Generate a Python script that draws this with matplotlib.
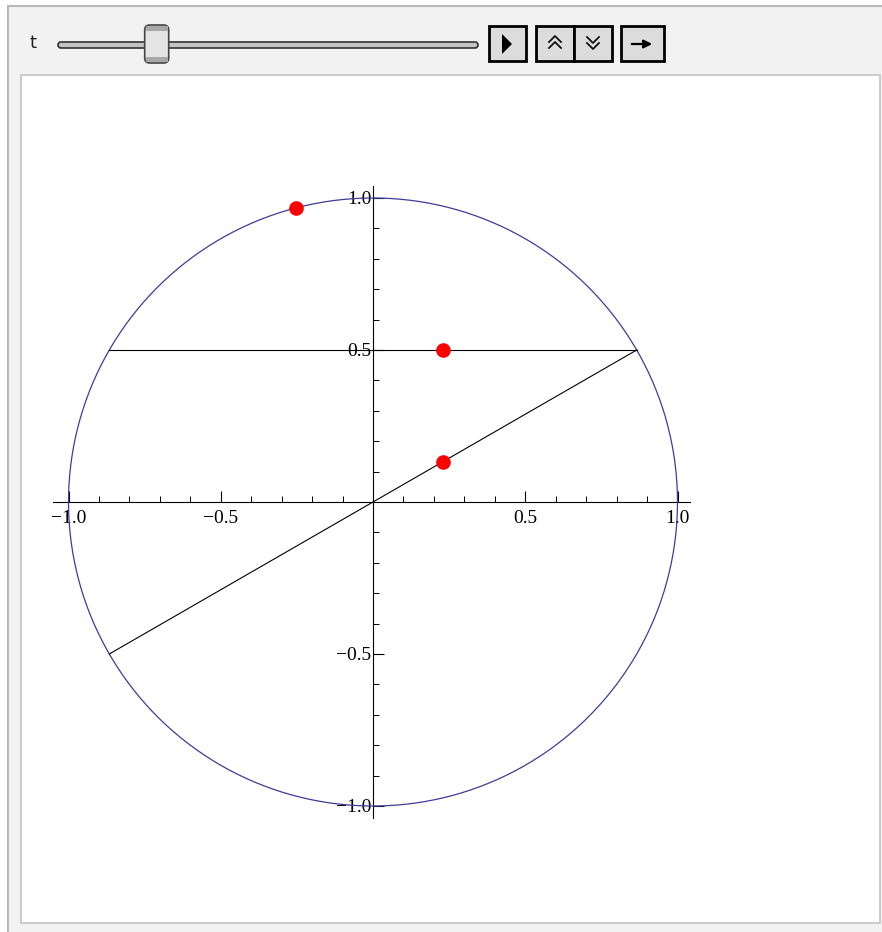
import numpy as np
import matplotlib.pyplot as plt
from matplotlib.patches import Rectangle, FancyBboxPatch, Polygon
from matplotlib.ticker import FixedLocator

# data
chord_x = [-0.866, 0.866]
chord_y = [0.5, 0.5]
radius_x = [-0.866, 0.866]
radius_y = [-0.5, 0.5]
dots_x = [-0.253, 0.23, 0.23]
dots_y = [0.968, 0.5, 0.133]
major_ticks = [-1.0, -0.5, 0.5, 1.0]
tick_labels = ['\u22121.0', '\u22120.5', '0.5', '1.0']
slider_value = 0.235

W, H = 882, 932
fig = plt.figure(figsize=(W / 100, H / 100), dpi=100)

# ui chrome drawn in pixel coords
ui = fig.add_axes([0, 0, 1, 1], zorder=0)
ui.set_xlim(0, W)
ui.set_ylim(H, 0)
ui.axis('off')
ui.add_patch(Rectangle((0, 0), W, H, facecolor='white', edgecolor='none'))
ui.add_patch(Rectangle((8, 6), W - 6, H, facecolor='#f2f2f2', edgecolor='#b8b8b8', lw=1.5))
ui.add_patch(Rectangle((21, 75), 859, 848, facecolor='white', edgecolor='#c4c4c4', lw=1.2))
ui.text(33, 43, 't', fontsize=13, family='DejaVu Sans', va='center', ha='center', color='#222222')

# slider
ui.add_patch(FancyBboxPatch((58, 42), 420, 6, boxstyle='round,pad=0,rounding_size=3',
                            facecolor='#c4c4c4', edgecolor='#333333', lw=1.2))
thumb_x = 58 + slider_value * 420
ui.add_patch(FancyBboxPatch((thumb_x - 12, 25), 24, 38, boxstyle='round,pad=0,rounding_size=5',
                            facecolor='#e4e4e4', edgecolor='#444444', lw=1.2))
ui.add_patch(Rectangle((thumb_x - 11, 26), 22, 5, facecolor='#a8a8a8', edgecolor='none'))
ui.add_patch(Rectangle((thumb_x - 11, 57), 22, 5, facecolor='#a8a8a8', edgecolor='none'))

# buttons
for bx, bw in [(489, 37), (536, 38), (574, 38), (621, 43)]:
    ui.add_patch(Rectangle((bx, 26), bw, 35, facecolor='#dcdcdc', edgecolor='black', lw=2))
ui.add_patch(Polygon([[502, 34], [502, 54], [512, 44]], closed=True, facecolor='black'))
for dy in (0, 6):
    ui.plot([549, 555, 561], [42 + dy, 36 + dy, 42 + dy], color='black', lw=1.2)
    ui.plot([587, 593, 599], [37 + dy, 43 + dy, 37 + dy], color='black', lw=1.2)
ui.annotate('', xy=(655, 44), xytext=(629, 44),
            arrowprops=dict(arrowstyle='-|>', color='black', lw=1.6, mutation_scale=12))

# the plot itself, mapped so origin sits at pixel (373, 502)
ax = fig.add_axes([0, 0, 1, 1], zorder=1)
ax.patch.set_alpha(0)
sx, sy = 304.5, 304.0
ax.set_xlim(-373 / sx, (W - 373) / sx)
ax.set_ylim(-(H - 502) / sy, 502 / sy)

theta = np.linspace(0, 2 * np.pi, 400)
ax.plot(np.cos(theta), np.sin(theta), color='#3d3d99', lw=0.9, zorder=3)
ax.plot(chord_x, chord_y, color='black', lw=0.8, zorder=3)
ax.plot(radius_x, radius_y, color='black', lw=0.8, zorder=3)
ax.plot(dots_x, dots_y, 'o', color='red', markersize=9.5, zorder=4)

for side in ['top', 'right']:
    ax.spines[side].set_visible(False)
ax.spines['bottom'].set_position(('data', 0))
ax.spines['left'].set_position(('data', 0))
ax.spines['bottom'].set_bounds(-1.05, 1.04)
ax.spines['left'].set_bounds(-1.04, 1.04)
for side in ['bottom', 'left']:
    ax.spines[side].set_linewidth(0.8)

ax.xaxis.set_major_locator(FixedLocator(major_ticks))
ax.yaxis.set_major_locator(FixedLocator(major_ticks))
minor = [v / 10 for v in range(-10, 11) if v % 5 != 0]
ax.xaxis.set_minor_locator(FixedLocator(minor))
ax.yaxis.set_minor_locator(FixedLocator(minor))
ax.set_xticklabels(tick_labels)
ax.set_yticklabels(tick_labels)
ax.tick_params(which='major', direction='in', length=8, width=0.8, labelsize=14)
ax.tick_params(axis='x', which='major', pad=6)
ax.tick_params(axis='y', which='major', pad=1)
ax.tick_params(which='minor', direction='in', length=4.5, width=0.7)
for lab in ax.get_xticklabels() + ax.get_yticklabels():
    lab.set_family('Liberation Serif')

fig.savefig('out.png', dpi=100)
